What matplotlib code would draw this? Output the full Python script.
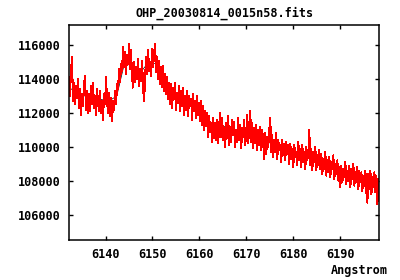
import numpy as np
import matplotlib
matplotlib.use("Agg")
import matplotlib.pyplot as plt

title = "OHP_20030814_0015n58.fits"

# red spectrum, evenly spaced in wavelength between wl_start and wl_end
wl_start, wl_end = 6132.2, 6198.4
flux_red = [
    114100, 113000, 114500, 115300, 112700, 113800, 112500, 113600, 112900, 114000, 112300,
    113400, 111900, 113100, 112400, 113700, 114200, 112200, 113300, 112000, 113100,
    112100, 113600, 112500, 113800, 112300, 113000, 111900, 113400, 112600, 112100,
    113300, 112000, 112700, 111600, 113100, 112500, 114100, 112700, 112000, 113200,
    111800, 112900, 111500, 112700, 112200, 113300, 112500, 113700,
    113400, 114600, 113800, 114900,
    114500, 115900, 114700, 115600, 114300, 115400, 114900, 116100, 114600, 115700,
    114100, 113500, 115000, 113800, 114700, 114000, 115200, 113600, 114600, 113900,
    115100, 113400, 112700,
    114100, 115300, 114300, 115700, 114500, 115000, 114200, 115800, 114700, 115500,
    116100, 114400, 115300,
    114000, 115100, 113700, 114700, 113500, 114800, 113300, 114300, 113100, 114100,
    112800, 113800,
    112500, 113700, 112300, 113500, 112800, 113800, 112200, 113200, 112600, 113600,
    112100, 113300, 112400, 113500, 111900, 113000,
    112200, 113300, 111800, 113000, 112400, 112800, 111600, 113100, 112100, 112700,
    111700, 113000, 111900, 112600, 111500,
    112700, 111300, 112400, 111000, 112100, 111200, 112000, 110600, 111800, 110900,
    111400, 110300, 111700, 110500, 111400,
    110400, 111600, 110200, 111300, 112000, 110600, 111700, 110400, 111100, 110000,
    111400, 110500, 111800, 110100, 111200, 110300, 111600, 110700, 111500, 110000,
    111000, 110300, 111700, 110400, 111300, 109900, 111100, 110600, 111600, 110100,
    110800, 111900, 110200, 111300, 112100, 110300, 111400, 109900, 111100, 110200,
    111300, 109800, 111000, 110100, 111200,
    109800, 111000, 110100, 109300, 110800, 109600, 110600, 110000, 111000, 111700,
    109700, 110700, 109400, 110400, 109700, 110800, 109300, 110400, 109800, 110100,
    109100, 110400, 109500, 110200, 109200, 110300, 109600, 110100, 109000, 110200,
    109300, 109900, 108800, 110100, 109400, 109700, 108900, 110300, 109200, 109900,
    108800, 110100, 109100, 109700, 108700, 110000, 109200, 109600, 111000, 108900,
    109900, 108600, 109700, 109100, 110000, 108600, 109500, 108900, 109800, 108700,
    109600, 108400, 109300, 108700, 109700, 108300, 109200, 108500, 109400, 108200,
    109100, 108700, 109500, 108100, 109000, 108400, 109200, 108000, 108800, 107600,
    108900, 107900, 108700, 108200, 109100, 107800, 108600, 108000, 108900, 107600,
    108700, 108100, 109000, 107700, 108500, 107900, 108800, 107500, 108600, 107900,
    108500, 107400, 108300, 107700, 108600, 107300, 106700, 108400, 107500, 108600,
    107200, 108200, 107600, 108500, 107300, 108300, 106600, 108100, 107400,
]

# black spectrum underneath (coarser), mostly hidden by the red one
flux_black = [
    113500, 113200, 113000, 112900, 112800, 112700, 113000, 115000, 114700, 114400,
    115000, 114900, 114100, 113100, 112900, 112700, 112500, 111800, 111200, 111300,
    111100, 111000, 111000, 110900, 110500, 110300, 110000, 109800, 109700, 109600,
    109500, 109300, 109000, 108800, 108500, 108400, 108300, 108000, 107900, 107900,
]

wl_red = np.linspace(wl_start, wl_end, len(flux_red))
wl_black = np.linspace(wl_start, wl_end, len(flux_black))

fnt = dict(family="DejaVu Sans Mono", fontweight="bold", fontsize=8.5)

fig = plt.figure(figsize=(4, 2.8), dpi=100)
ax = fig.add_axes([0.1725, 0.143, 0.776, 0.768])

ax.plot(wl_black, flux_black, color="black", lw=0.5)
ax.plot(wl_red, flux_red, color="red", lw=0.7, antialiased=False)

ax.set_xlim(wl_start, wl_end)
ax.set_ylim(104500, 117200)
ax.set_xticks([6140, 6150, 6160, 6170, 6180, 6190])
ax.set_yticks([106000, 108000, 110000, 112000, 114000, 116000])
ax.tick_params(direction="in", length=3, width=1, top=True, right=True, pad=6)
for lbl in ax.get_xticklabels() + ax.get_yticklabels():
    lbl.set_fontfamily(fnt["family"])
    lbl.set_fontweight("bold")
    lbl.set_fontsize(fnt["fontsize"])
for s in ax.spines.values():
    s.set_linewidth(1.1)

ax.set_title(title, pad=6, **fnt)
fig.text(0.97, 0.01, "Angstrom", ha="right", va="bottom", **fnt)

fig.savefig("out.png", dpi=100)
